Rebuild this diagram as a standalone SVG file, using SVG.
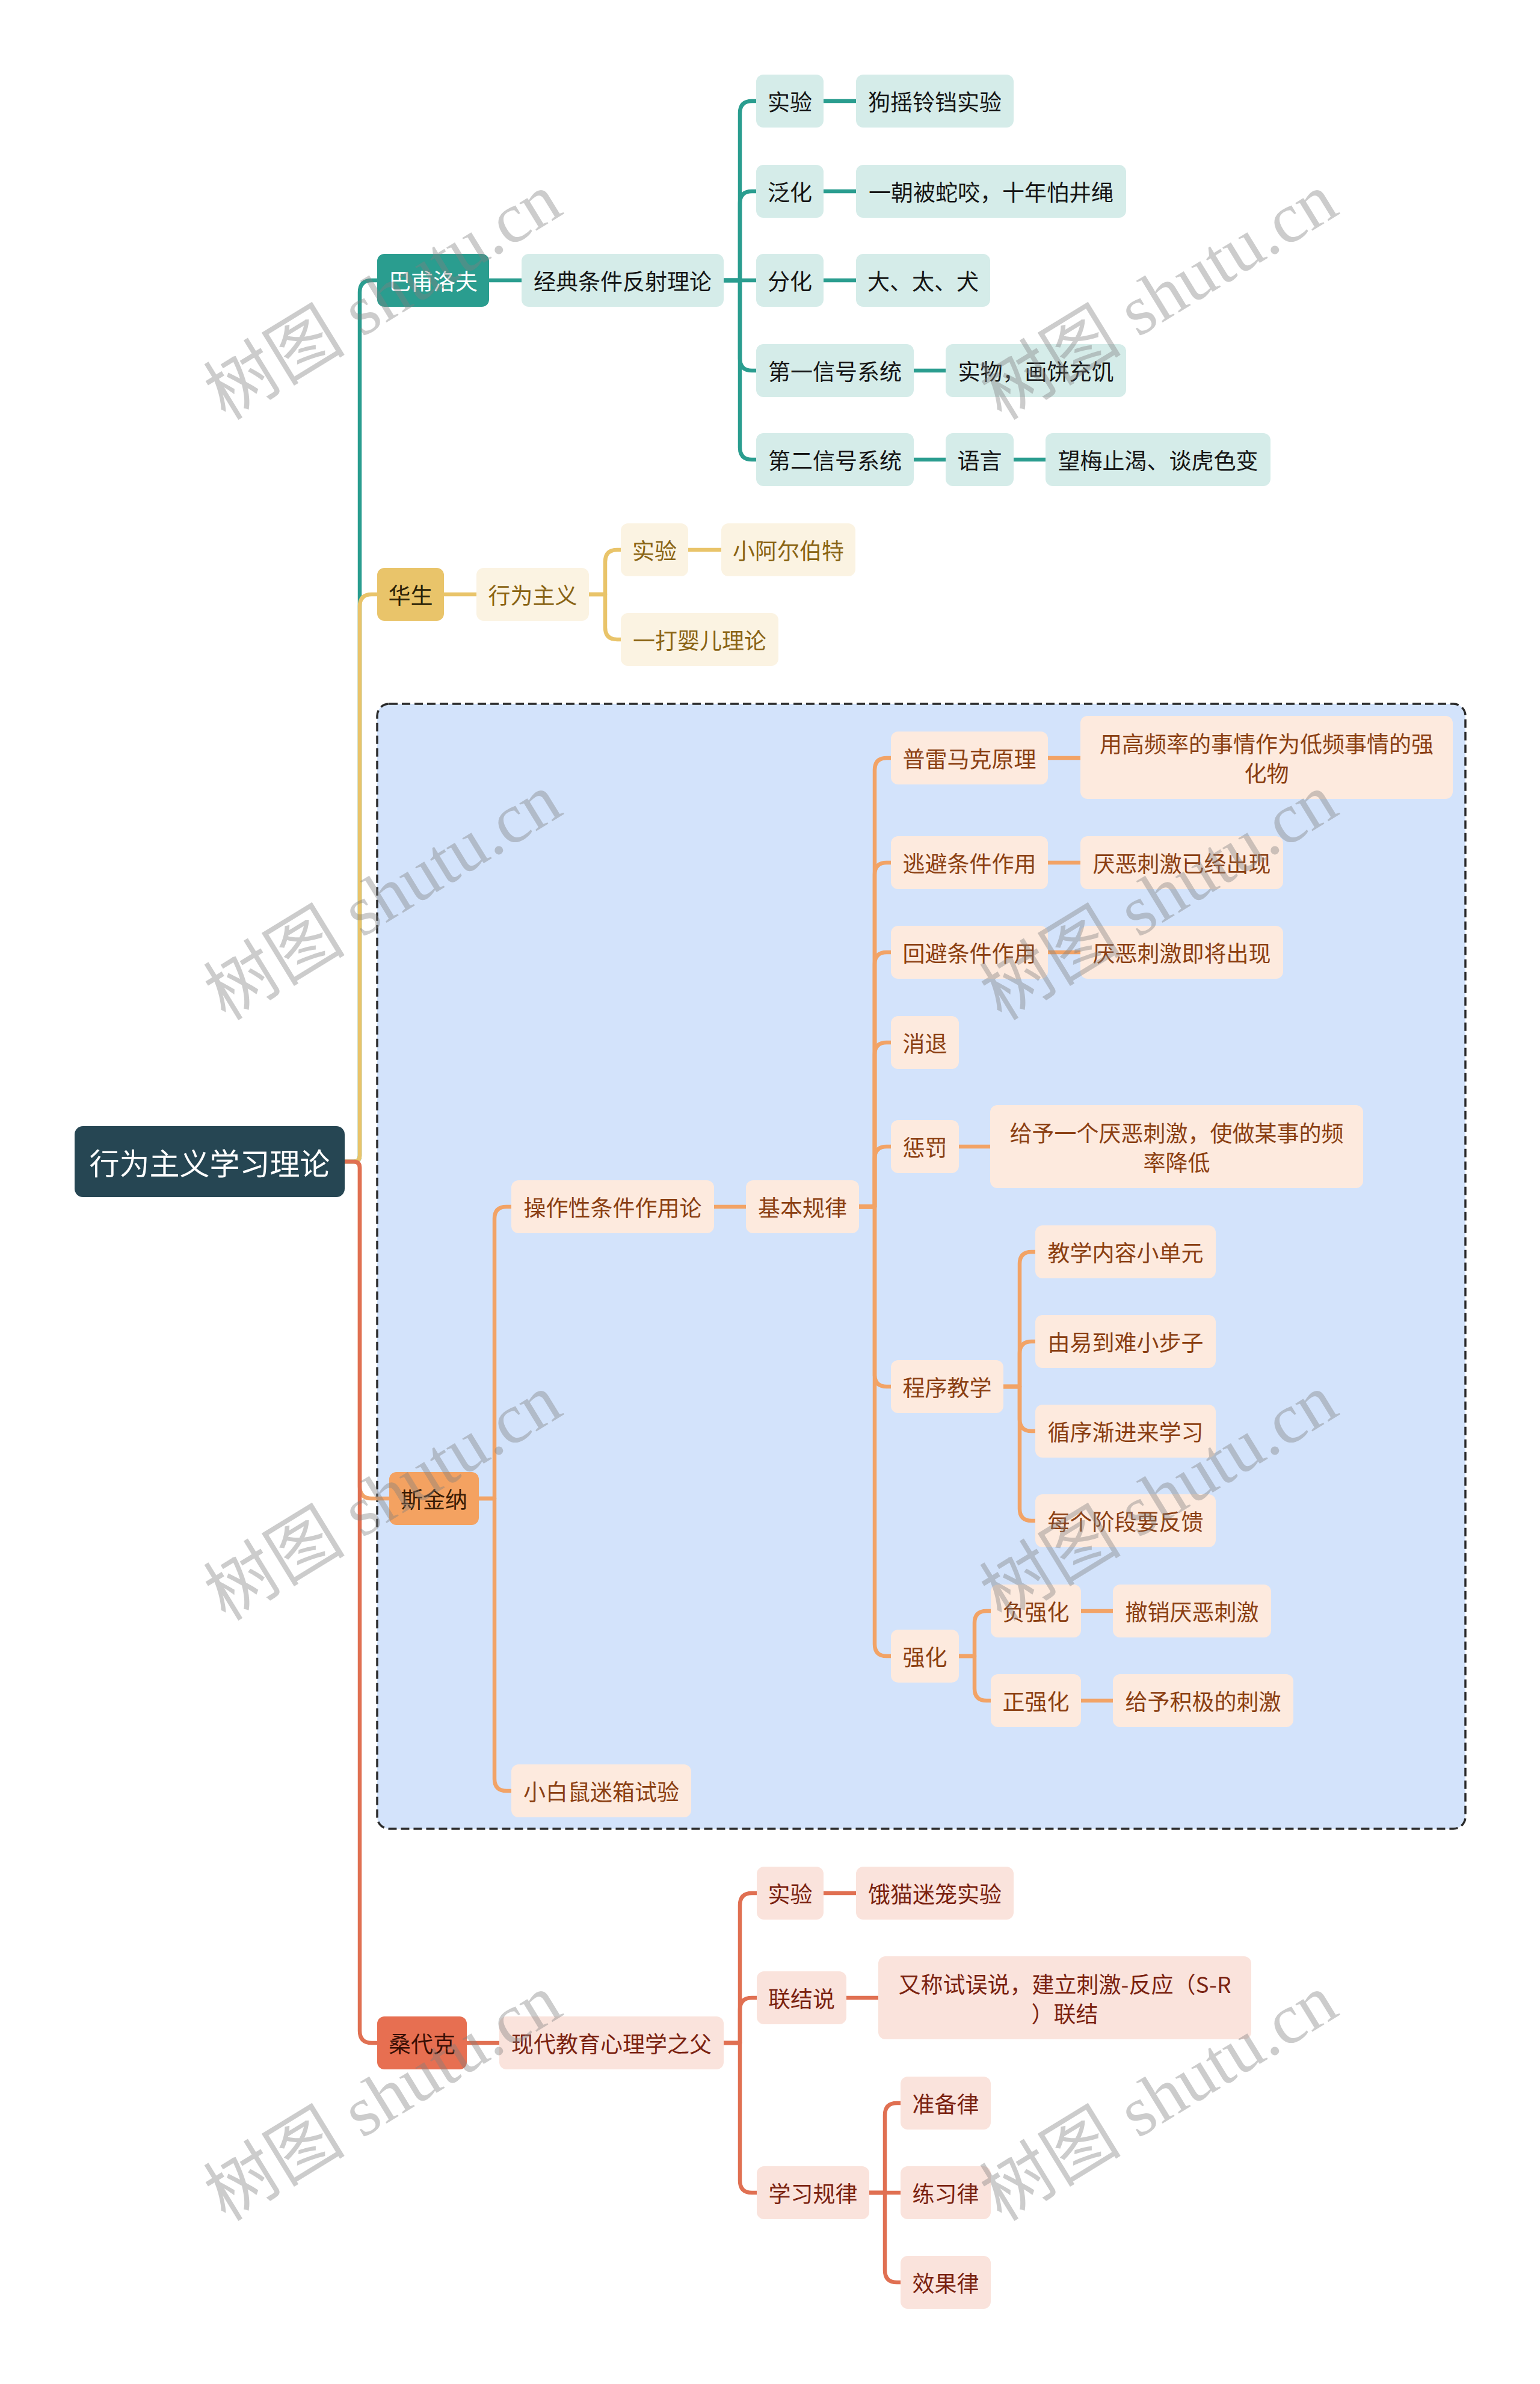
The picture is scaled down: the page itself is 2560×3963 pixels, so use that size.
<svg xmlns="http://www.w3.org/2000/svg" width="2560" height="3963" viewBox="0 0 2560 3963">
<style>
text{font-family:"Noto Sans CJK SC","Liberation Sans",sans-serif;font-size:37px;text-anchor:middle;dominant-baseline:central}
.c{fill:none;stroke-width:6.5;stroke-linejoin:round}
.ct{stroke:#2a9d8f}.cy{stroke:#e9c46a}.co{stroke:#f2a366}.cr{stroke:#e07052}
.n1t{fill:#2a9d8f}.n1y{fill:#e9c46a}.n1o{fill:#f4a261}.n1r{fill:#e76f51}
.nt{fill:#d5ece9}.ny{fill:#fbf3e2}.no{fill:#fdeade}.nr{fill:#fae3dc}
.tt{fill:#151515}.ty{fill:#8a6414}.to{fill:#8b3f12}.tr{fill:#7a2210}
.wm{font-family:"Liberation Serif","Noto Sans CJK SC",serif;font-size:118px;fill:#7f7f7f;fill-opacity:0.4;text-anchor:start;dominant-baseline:alphabetic}
</style>
<rect width="2560" height="3963" fill="#ffffff"/>
<g id="skinner-boundary">
<rect x="627" y="1170" width="1809" height="1870" rx="20" fill="#d3e3fb" stroke="#2a2a2a" stroke-width="3.5" stroke-dasharray="14 7"/>
</g>
<g id="connectors">
<path class="c ct" d="M573 1931 H588 Q598 1931 598 1921 V486 Q598 466 618 466 H627"/>
<path class="c cy" d="M573 1931 H588 Q598 1931 598 1921 V1008 Q598 988 618 988 H627"/>
<path class="c co" d="M573 1931 H588 Q598 1931 598 1941 V2471 Q598 2491 618 2491 H647"/>
<path class="c cr" d="M573 1931 H588 Q598 1931 598 1941 V3376 Q598 3396 618 3396 H627"/>
<path class="c ct" d="M813 466 H867"/>
<path class="c ct" d="M1203 466 H1230 V188 Q1230 168 1250 168 H1257"/>
<path class="c ct" d="M1203 466 H1230 V338 Q1230 318 1250 318 H1257"/>
<path class="c ct" d="M1203 466 H1257"/>
<path class="c ct" d="M1203 466 H1230 V596 Q1230 616 1250 616 H1257"/>
<path class="c ct" d="M1203 466 H1230 V744 Q1230 764 1250 764 H1257"/>
<path class="c ct" d="M1369 168 H1423"/>
<path class="c ct" d="M1369 318 H1423"/>
<path class="c ct" d="M1369 466 H1423"/>
<path class="c ct" d="M1519 616 H1572"/>
<path class="c ct" d="M1519 764 H1572"/>
<path class="c ct" d="M1685 764 H1738"/>
<path class="c cy" d="M738 988 H792"/>
<path class="c cy" d="M979 988 H1006 V934 Q1006 914 1026 914 H1032"/>
<path class="c cy" d="M979 988 H1006 V1043 Q1006 1063 1026 1063 H1032"/>
<path class="c cy" d="M1144 914 H1199"/>
<path class="c co" d="M796 2491 H822 V2026 Q822 2006 842 2006 H850"/>
<path class="c co" d="M796 2491 H822 V2957 Q822 2977 842 2977 H850"/>
<path class="c co" d="M1187 2006 H1240"/>
<path class="c co" d="M1428 2006 H1454 V1280 Q1454 1260 1474 1260 H1481"/>
<path class="c co" d="M1428 2006 H1454 V1454 Q1454 1434 1474 1434 H1481"/>
<path class="c co" d="M1428 2006 H1454 V1603 Q1454 1583 1474 1583 H1481"/>
<path class="c co" d="M1428 2006 H1454 V1753 Q1454 1733 1474 1733 H1481"/>
<path class="c co" d="M1428 2006 H1454 V1926 Q1454 1906 1474 1906 H1481"/>
<path class="c co" d="M1428 2006 H1454 V2285 Q1454 2305 1474 2305 H1481"/>
<path class="c co" d="M1428 2006 H1454 V2733 Q1454 2753 1474 2753 H1481"/>
<path class="c co" d="M1742 1260 H1796"/>
<path class="c co" d="M1742 1434 H1796"/>
<path class="c co" d="M1742 1583 H1796"/>
<path class="c co" d="M1594 1906 H1646"/>
<path class="c co" d="M1668 2305 H1695 V2101 Q1695 2081 1715 2081 H1721"/>
<path class="c co" d="M1668 2305 H1695 V2250 Q1695 2230 1715 2230 H1721"/>
<path class="c co" d="M1668 2305 H1695 V2359 Q1695 2379 1715 2379 H1721"/>
<path class="c co" d="M1668 2305 H1695 V2508 Q1695 2528 1715 2528 H1721"/>
<path class="c co" d="M1594 2753 H1620 V2698 Q1620 2678 1640 2678 H1647"/>
<path class="c co" d="M1594 2753 H1620 V2807 Q1620 2827 1640 2827 H1647"/>
<path class="c co" d="M1797 2678 H1850"/>
<path class="c co" d="M1797 2827 H1850"/>
<path class="c cr" d="M776 3396 H830"/>
<path class="c cr" d="M1203 3396 H1230 V3167 Q1230 3147 1250 3147 H1258"/>
<path class="c cr" d="M1203 3396 H1230 V3341 Q1230 3321 1250 3321 H1258"/>
<path class="c cr" d="M1203 3396 H1230 V3625 Q1230 3645 1250 3645 H1258"/>
<path class="c cr" d="M1369 3147 H1423"/>
<path class="c cr" d="M1407 3321 H1460"/>
<path class="c cr" d="M1445 3645 H1471 V3516 Q1471 3496 1491 3496 H1497"/>
<path class="c cr" d="M1445 3645 H1497"/>
<path class="c cr" d="M1445 3645 H1471 V3774 Q1471 3794 1491 3794 H1497"/>
</g>
<g id="root"><rect x="124" y="1872" width="449" height="118" rx="14" fill="#264653"/><text x="348.5" y="1931" style="font-size:50px" fill="#ffffff">行为主义学习理论</text></g>
<g id="pavlov"><rect class="n1t" x="627" y="422" width="186" height="88" rx="12"/><text x="720" y="466" fill="#ffffff">巴甫洛夫</text></g>
<g id="classical"><rect class="nt" x="867" y="422" width="336" height="88" rx="12"/><text class="tt" x="1035" y="466">经典条件反射理论</text></g>
<g id="p-exp"><rect class="nt" x="1257" y="124" width="112" height="88" rx="12"/><text class="tt" x="1313" y="168">实验</text></g>
<g id="p-dog"><rect class="nt" x="1423" y="124" width="262" height="88" rx="12"/><text class="tt" x="1554" y="168">狗摇铃铛实验</text></g>
<g id="p-gen"><rect class="nt" x="1257" y="274" width="112" height="88" rx="12"/><text class="tt" x="1313" y="318">泛化</text></g>
<g id="p-snake"><rect class="nt" x="1423" y="274" width="449" height="88" rx="12"/><text class="tt" x="1647.5" y="318">一朝被蛇咬，十年怕井绳</text></g>
<g id="p-diff"><rect class="nt" x="1257" y="422" width="112" height="88" rx="12"/><text class="tt" x="1313" y="466">分化</text></g>
<g id="p-da"><rect class="nt" x="1423" y="422" width="223" height="88" rx="12"/><text class="tt" x="1534.5" y="466">大、太、犬</text></g>
<g id="p-sig1"><rect class="nt" x="1257" y="572" width="262" height="88" rx="12"/><text class="tt" x="1388" y="616">第一信号系统</text></g>
<g id="p-sig1c"><rect class="nt" x="1572" y="572" width="300" height="88" rx="12"/><text class="tt" x="1722" y="616">实物，画饼充饥</text></g>
<g id="p-sig2"><rect class="nt" x="1257" y="720" width="262" height="88" rx="12"/><text class="tt" x="1388" y="764">第二信号系统</text></g>
<g id="p-lang"><rect class="nt" x="1572" y="720" width="113" height="88" rx="12"/><text class="tt" x="1628.5" y="764">语言</text></g>
<g id="p-plum"><rect class="nt" x="1738" y="720" width="374" height="88" rx="12"/><text class="tt" x="1925" y="764">望梅止渴、谈虎色变</text></g>
<g id="watson"><rect class="n1y" x="627" y="944" width="111" height="88" rx="12"/><text x="682.5" y="988" fill="#2b2206">华生</text></g>
<g id="behaviorism"><rect class="ny" x="792" y="944" width="187" height="88" rx="12"/><text class="ty" x="885.5" y="988">行为主义</text></g>
<g id="w-exp"><rect class="ny" x="1032" y="870" width="112" height="88" rx="12"/><text class="ty" x="1088" y="914">实验</text></g>
<g id="w-albert"><rect class="ny" x="1199" y="870" width="223" height="88" rx="12"/><text class="ty" x="1310.5" y="914">小阿尔伯特</text></g>
<g id="w-baby"><rect class="ny" x="1032" y="1019" width="262" height="88" rx="12"/><text class="ty" x="1163" y="1063">一打婴儿理论</text></g>
<g id="skinner"><rect class="n1o" x="647" y="2447" width="149" height="88" rx="12"/><text x="721.5" y="2491" fill="#3a1c04">斯金纳</text></g>
<g id="operant"><rect class="no" x="850" y="1962" width="337" height="88" rx="12"/><text class="to" x="1018.5" y="2006">操作性条件作用论</text></g>
<g id="rat"><rect class="no" x="850" y="2933" width="299" height="88" rx="12"/><text class="to" x="999.5" y="2977">小白鼠迷箱试验</text></g>
<g id="basic"><rect class="no" x="1240" y="1962" width="188" height="88" rx="12"/><text class="to" x="1334" y="2006">基本规律</text></g>
<g id="premack"><rect class="no" x="1481" y="1216" width="261" height="88" rx="12"/><text class="to" x="1611.5" y="1260">普雷马克原理</text></g>
<g id="premack-d"><rect class="no" x="1796" y="1190" width="619" height="138" rx="12"/><text class="to" x="2105.5" y="1235">用高频率的事情作为低频事情的强</text><text class="to" x="2105.5" y="1284">化物</text></g>
<g id="escape"><rect class="no" x="1481" y="1390" width="261" height="88" rx="12"/><text class="to" x="1611.5" y="1434">逃避条件作用</text></g>
<g id="escape-d"><rect class="no" x="1796" y="1390" width="337" height="88" rx="12"/><text class="to" x="1964.5" y="1434">厌恶刺激已经出现</text></g>
<g id="avoid"><rect class="no" x="1481" y="1539" width="261" height="88" rx="12"/><text class="to" x="1611.5" y="1583">回避条件作用</text></g>
<g id="avoid-d"><rect class="no" x="1796" y="1539" width="337" height="88" rx="12"/><text class="to" x="1964.5" y="1583">厌恶刺激即将出现</text></g>
<g id="extinction"><rect class="no" x="1481" y="1689" width="113" height="88" rx="12"/><text class="to" x="1537.5" y="1733">消退</text></g>
<g id="punish"><rect class="no" x="1481" y="1862" width="113" height="88" rx="12"/><text class="to" x="1537.5" y="1906">惩罚</text></g>
<g id="punish-d"><rect class="no" x="1646" y="1837" width="620" height="138" rx="12"/><text class="to" x="1956" y="1882">给予一个厌恶刺激，使做某事的频</text><text class="to" x="1956" y="1931">率降低</text></g>
<g id="program"><rect class="no" x="1481" y="2261" width="187" height="88" rx="12"/><text class="to" x="1574.5" y="2305">程序教学</text></g>
<g id="prog1"><rect class="no" x="1721" y="2037" width="300" height="88" rx="12"/><text class="to" x="1871" y="2081">教学内容小单元</text></g>
<g id="prog2"><rect class="no" x="1721" y="2186" width="300" height="88" rx="12"/><text class="to" x="1871" y="2230">由易到难小步子</text></g>
<g id="prog3"><rect class="no" x="1721" y="2335" width="300" height="88" rx="12"/><text class="to" x="1871" y="2379">循序渐进来学习</text></g>
<g id="prog4"><rect class="no" x="1721" y="2484" width="300" height="88" rx="12"/><text class="to" x="1871" y="2528">每个阶段要反馈</text></g>
<g id="reinforce"><rect class="no" x="1481" y="2709" width="113" height="88" rx="12"/><text class="to" x="1537.5" y="2753">强化</text></g>
<g id="neg"><rect class="no" x="1647" y="2634" width="150" height="88" rx="12"/><text class="to" x="1722" y="2678">负强化</text></g>
<g id="neg-d"><rect class="no" x="1850" y="2634" width="263" height="88" rx="12"/><text class="to" x="1981.5" y="2678">撤销厌恶刺激</text></g>
<g id="pos"><rect class="no" x="1647" y="2783" width="150" height="88" rx="12"/><text class="to" x="1722" y="2827">正强化</text></g>
<g id="pos-d"><rect class="no" x="1850" y="2783" width="300" height="88" rx="12"/><text class="to" x="2000" y="2827">给予积极的刺激</text></g>
<g id="thorndike"><rect class="n1r" x="627" y="3352" width="149" height="88" rx="12"/><text x="701.5" y="3396" fill="#3a0f05">桑代克</text></g>
<g id="father"><rect class="nr" x="830" y="3352" width="373" height="88" rx="12"/><text class="tr" x="1016.5" y="3396">现代教育心理学之父</text></g>
<g id="t-exp"><rect class="nr" x="1258" y="3103" width="111" height="88" rx="12"/><text class="tr" x="1313.5" y="3147">实验</text></g>
<g id="t-cat"><rect class="nr" x="1423" y="3103" width="262" height="88" rx="12"/><text class="tr" x="1554" y="3147">饿猫迷笼实验</text></g>
<g id="t-conn"><rect class="nr" x="1258" y="3277" width="149" height="88" rx="12"/><text class="tr" x="1332.5" y="3321">联结说</text></g>
<g id="t-conn-d"><rect class="nr" x="1460" y="3252" width="620" height="138" rx="12"/><text class="tr" x="1770" y="3297">又称试误说，建立刺激-反应（S-R</text><text class="tr" x="1770" y="3346">）联结</text></g>
<g id="t-laws"><rect class="nr" x="1258" y="3601" width="187" height="88" rx="12"/><text class="tr" x="1351.5" y="3645">学习规律</text></g>
<g id="t-ready"><rect class="nr" x="1497" y="3452" width="150" height="88" rx="12"/><text class="tr" x="1572" y="3496">准备律</text></g>
<g id="t-exer"><rect class="nr" x="1497" y="3601" width="150" height="88" rx="12"/><text class="tr" x="1572" y="3645">练习律</text></g>
<g id="t-effect"><rect class="nr" x="1497" y="3750" width="150" height="88" rx="12"/><text class="tr" x="1572" y="3794">效果律</text></g>
<g id="watermarks">
<text class="wm" x="375" y="700" transform="rotate(-31.5 375 700)">树图 shutu.cn</text>
<text class="wm" x="1665" y="700" transform="rotate(-31.5 1665 700)">树图 shutu.cn</text>
<text class="wm" x="375" y="1698" transform="rotate(-31.5 375 1698)">树图 shutu.cn</text>
<text class="wm" x="1665" y="1698" transform="rotate(-31.5 1665 1698)">树图 shutu.cn</text>
<text class="wm" x="375" y="2696" transform="rotate(-31.5 375 2696)">树图 shutu.cn</text>
<text class="wm" x="1665" y="2696" transform="rotate(-31.5 1665 2696)">树图 shutu.cn</text>
<text class="wm" x="375" y="3694" transform="rotate(-31.5 375 3694)">树图 shutu.cn</text>
<text class="wm" x="1665" y="3694" transform="rotate(-31.5 1665 3694)">树图 shutu.cn</text>
</g>
</svg>
